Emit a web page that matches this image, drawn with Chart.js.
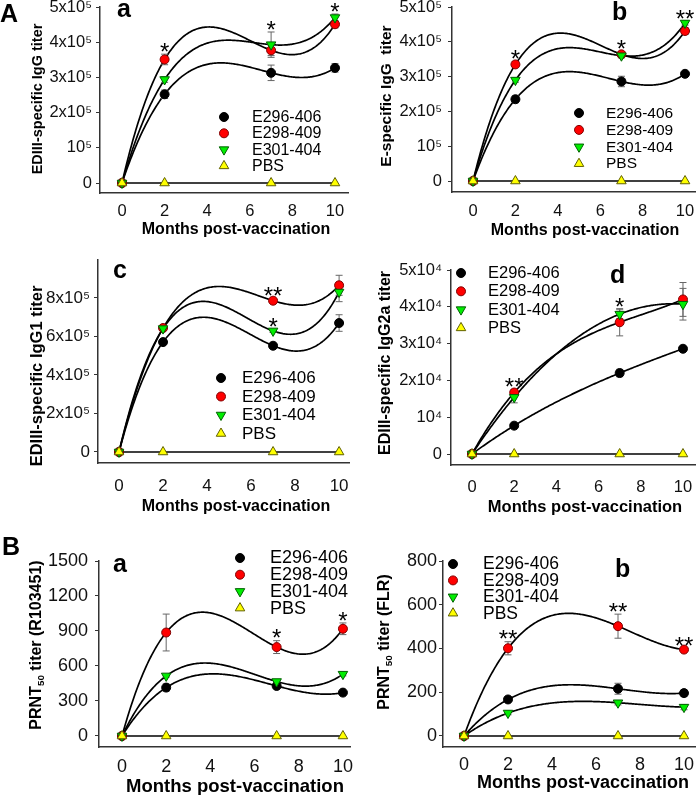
<!DOCTYPE html>
<html><head><meta charset="utf-8">
<script src="https://cdn.jsdelivr.net/npm/chart.js"></script>
<style>
html,body{margin:0;padding:0;background:#fff;}
#wrap{position:relative;width:698px;height:795px;overflow:hidden;background:#fff;}
#wrap canvas{position:absolute;left:0;top:0;}
</style></head><body><div id="wrap"></div>
<script>
// ---------- shared ----------
const months = [0, 2, 7, 10];
const seriesNames = ['E296-406', 'E298-409', 'E301-404', 'PBS'];
const xTicks = [0, 2, 4, 6, 8, 10];
const xTitle = 'Months post-vaccination';

// ---------- A-a : EDIII-specific IgG ----------
const aaE296 = [0, 252000, 313000, 327000];
const aaE296Err = [0, 12000, 22000, 12000];
const aaE298 = [0, 351000, 377000, 451000];
const aaE298Err = [0, 15000, 15000, 10000];
const aaE301 = [0, 294000, 393000, 470000];
const aaE301Err = [0, 8000, 36000, 10000];
const aaPBS = [0, 0, 0, 0];
const aaPBSErr = [0, 0, 0, 0];
const aaYTicks = [0, 100000, 200000, 300000, 400000, 500000];
const aaYLabels = ['0', '10⁵', '2x10⁵', '3x10⁵', '4x10⁵', '5x10⁵'];

// ---------- A-b : E-specific IgG ----------
const abE296 = [0, 235000, 286000, 308000];
const abE296Err = [0, 10000, 15000, 6000];
const abE298 = [0, 335000, 364000, 431000];
const abE298Err = [0, 8000, 8000, 10000];
const abE301 = [0, 290000, 360000, 454000];
const abE301Err = [0, 6000, 6000, 6000];
const abPBS = [0, 0, 0, 0];
const abPBSErr = [0, 0, 0, 0];
const abYTicks = [0, 100000, 200000, 300000, 400000, 500000];
const abYLabels = ['0', '10⁵', '2x10⁵', '3x10⁵', '4x10⁵', '5x10⁵'];

// ---------- A-c : EDIII-specific IgG1 ----------
const acE296 = [0, 571000, 552000, 670000];
const acE296Err = [0, 10000, 10000, 43000];
const acE298 = [0, 644000, 786000, 866000];
const acE298Err = [0, 10000, 10000, 52000];
const acE301 = [0, 641000, 629000, 831000];
const acE301Err = [0, 8000, 8000, 50000];
const acPBS = [0, 0, 0, 0];
const acPBSErr = [0, 0, 0, 0];
const acYTicks = [0, 200000, 400000, 600000, 800000];
const acYLabels = ['0', '2x10⁵', '4x10⁵', '6x10⁵', '8x10⁵'];

// ---------- A-d : EDIII-specific IgG2a ----------
const adE296 = [0, 7700, 22000, 28600];
const adE296Err = [0, 400, 1000, 500];
const adE298 = [0, 16700, 35800, 42000];
const adE298Err = [0, 800, 3700, 4600];
const adE301 = [0, 15400, 38000, 40700];
const adE301Err = [0, 1500, 1200, 4300];
const adPBS = [0, 0, 0, 0];
const adPBSErr = [0, 0, 0, 0];
const adYTicks = [0, 10000, 20000, 30000, 40000, 50000];
const adYLabels = ['0', '10⁴', '2x10⁴', '3x10⁴', '4x10⁴', '5x10⁴'];

// ---------- B-a : PRNT50 (R103451) ----------
const baE296 = [0, 415, 429, 372];
const baE296Err = [0, 30, 15, 10];
const baE298 = [0, 887, 762, 919];
const baE298Err = [0, 158, 55, 50];
const baE301 = [0, 515, 467, 530];
const baE301Err = [0, 10, 10, 15];
const baPBS = [0, 0, 0, 0];
const baPBSErr = [0, 0, 0, 0];
const baYTicks = [0, 300, 600, 900, 1200, 1500];
const baYLabels = ['0', '300', '600', '900', '1200', '1500'];

// ---------- B-b : PRNT50 (FLR) ----------
const bbE296 = [0, 167, 216, 196];
const bbE296Err = [0, 10, 25, 15];
const bbE298 = [0, 401, 502, 395];
const bbE298Err = [0, 30, 55, 8];
const bbE301 = [0, 105, 152, 132];
const bbE301Err = [0, 8, 10, 12];
const bbPBS = [0, 0, 0, 0];
const bbPBSErr = [0, 0, 0, 0];
const bbYTicks = [0, 200, 400, 600, 800];
const bbYLabels = ['0', '200', '400', '600', '800'];

// ---------- styles ----------
const FONT = "'Liberation Sans', Arial, Helvetica, sans-serif";
const markerStyles = [
  {bg: '#000000', border: '#000000', shape: 'circle', rot: 0, r: 4.5},
  {bg: '#ff0000', border: '#800000', shape: 'circle', rot: 0, r: 4.5},
  {bg: '#00ee00', border: '#006000', shape: 'triangle', rot: 180, r: 5.5},
  {bg: '#ffff00', border: '#606000', shape: 'triangle', rot: 0, r: 5.5}
];

const panels = [
  { series: [[aaE296, aaE296Err], [aaE298, aaE298Err], [aaE301, aaE301Err], [aaPBS, aaPBSErr]],
    yTicks: aaYTicks, yLabels: aaYLabels, yTitle: [['EDIII-specific IgG titer', 0]],
    g: {left: 100, right: 348, top: 7, bottom: 193, xMin: -1.033, xMax: 10.61, yMin: -28409, yMax: 500000},
    f: {tick: 16.5, xt: 16, yt: 14.5, leg: 16}, xPad: 8.5, yPad: 4,
    xT: [236, 230], yT: [37.5, 99],
    leg: [224, 252, 117, 16.3],
    letters: [['A', 0, 22], ['a', 117, 17]],
    stars: [[2, 1, '*'], [7, 2, '*'], [10, 2, '*']] },
  { series: [[abE296, abE296Err], [abE298, abE298Err], [abE301, abE301Err], [abPBS, abPBSErr]],
    yTicks: abYTicks, yLabels: abYLabels, yTitle: [['E-specific IgG  titer', 0]],
    g: {left: 452, right: 695, top: 7, bottom: 192, xMin: -0.991, xMax: 10.47, yMin: -31609, yMax: 500000},
    f: {tick: 16.5, xt: 16, yt: 15.5, leg: 15.5}, xPad: 9.5, yPad: 6,
    xT: [585, 231], yT: [387, 96],
    leg: [579, 606, 113, 16.9],
    letters: [['b', 612, 20]],
    stars: [[2, 1, '*'], [7, 1, '*'], [10, 2, '**']] },
  { series: [[acE296, acE296Err], [acE298, acE298Err], [acE301, acE301Err], [acPBS, acPBSErr]],
    yTicks: acYTicks, yLabels: acYLabels, yTitle: [['EDIII-specific IgG1 titer', 0]],
    g: {left: 98, right: 349, top: 259.5, bottom: 463, xMin: -0.955, xMax: 10.45, yMin: -57143, yMax: 1000000},
    f: {tick: 17, xt: 16, yt: 16.5, leg: 17}, xPad: 13.5, yPad: 4,
    xT: [236, 507], yT: [37.5, 376],
    leg: [221, 242, 378, 18.5],
    letters: [['c', 113, 278]],
    stars: [[7, 1, '**'], [7, 2, '*']] },
  { series: [[adE296, adE296Err], [adE298, adE298Err], [adE301, adE301Err], [adPBS, adPBSErr]],
    yTicks: adYTicks, yLabels: adYLabels, yTitle: [['EDIII-specific IgG2a titer', 0]],
    g: {left: 451, right: 695, top: 270, bottom: 465, xMin: -0.995, xMax: 10.57, yMin: -2989, yMax: 50000},
    f: {tick: 16.5, xt: 16.5, yt: 16, leg: 16.5}, xPad: 12.5, yPad: 5,
    xT: [585, 507], yT: [385.5, 363],
    leg: [461, 488, 273, 18.3],
    letters: [['d', 610, 283]],
    stars: [[2, 1, '**'], [7, 2, '*']] },
  { series: [[baE296, baE296Err], [baE298, baE298Err], [baE301, baE301Err], [baPBS, baPBSErr]],
    yTicks: baYTicks, yLabels: baYLabels, yTitle: [['PRNT', 0], ['50', 1], [' titer (R103451)', 0]],
    g: {left: 99, right: 350, top: 561, bottom: 747, xMin: -1.041, xMax: 10.32, yMin: -94.3, yMax: 1500},
    f: {tick: 18, xt: 18.5, yt: 16, leg: 18}, xPad: 9, yPad: 7,
    xT: [235, 787], yT: [37, 645],
    leg: [240, 270, 558, 16.7],
    letters: [['B', 2, 555], ['a', 113, 572]],
    stars: [[7, 1, '*'], [10, 1, '*']] },
  { series: [[bbE296, bbE296Err], [bbE298, bbE298Err], [bbE301, bbE301Err], [bbPBS, bbPBSErr]],
    yTicks: bbYTicks, yLabels: bbYLabels, yTitle: [['PRNT', 0], ['50', 1], [' titer (FLR)', 0]],
    g: {left: 443, right: 695, top: 561, bottom: 747, xMin: -0.955, xMax: 10.5, yMin: -50.3, yMax: 800},
    f: {tick: 18, xt: 18, yt: 16, leg: 17.5}, xPad: 7, yPad: 2,
    xT: [583, 783], yT: [385, 642],
    leg: [453, 483, 564, 16.4],
    letters: [['b', 615, 577]],
    stars: [[2, 1, '**'], [7, 1, '**'], [10, 1, '**']] }
];

// ---------- helpers ----------
function lagrange(xs, ys, x) {
  let s = 0;
  for (let i = 0; i < xs.length; i++) {
    let l = 1;
    for (let j = 0; j < xs.length; j++) if (j !== i) l *= (x - xs[j]) / (xs[i] - xs[j]);
    s += ys[i] * l;
  }
  return s;
}
function drawMarker(ctx, st, x, y) {
  ctx.save();
  ctx.fillStyle = st.bg; ctx.strokeStyle = st.border; ctx.lineWidth = 1;
  ctx.beginPath();
  if (st.shape === 'circle') {
    ctx.arc(x, y, st.r, 0, Math.PI * 2);
  } else {
    let rad = st.rot * Math.PI / 180;
    ctx.moveTo(x + Math.sin(rad) * st.r, y - Math.cos(rad) * st.r);
    rad += 2 * Math.PI / 3;
    ctx.lineTo(x + Math.sin(rad) * st.r, y - Math.cos(rad) * st.r);
    rad += 2 * Math.PI / 3;
    ctx.lineTo(x + Math.sin(rad) * st.r, y - Math.cos(rad) * st.r);
    ctx.closePath();
  }
  ctx.fill(); ctx.stroke();
  ctx.restore();
}

function makeDecor(p) {
  return {
    id: 'decor',
    beforeDatasetsDraw(chart) {
      const ctx = chart.ctx, xs = chart.scales.x, ys = chart.scales.y;
      ctx.save();
      // fitted curves (polynomial through each series' points)
      ctx.strokeStyle = '#000'; ctx.lineWidth = 1.7; ctx.lineJoin = 'round';
      p.series.forEach(s => {
        const vals = s[0];
        ctx.beginPath();
        const N = 200;
        for (let k = 0; k <= N; k++) {
          const xv = months[0] + (months[months.length - 1] - months[0]) * k / N;
          const px = xs.getPixelForValue(xv), py = ys.getPixelForValue(lagrange(months, vals, xv));
          if (k) ctx.lineTo(px, py); else ctx.moveTo(px, py);
        }
        ctx.stroke();
      });
      // error bars
      ctx.strokeStyle = '#666'; ctx.lineWidth = 1;
      p.series.forEach(s => {
        s[0].forEach((v, k) => {
          const e = s[1][k];
          if (!e) return;
          const px = xs.getPixelForValue(months[k]);
          const y1 = ys.getPixelForValue(v + e), y2 = ys.getPixelForValue(v - e);
          ctx.beginPath();
          ctx.moveTo(px, y1); ctx.lineTo(px, y2);
          ctx.moveTo(px - 3.5, y1); ctx.lineTo(px + 3.5, y1);
          ctx.moveTo(px - 3.5, y2); ctx.lineTo(px + 3.5, y2);
          ctx.stroke();
        });
      });
      ctx.restore();
    },
    afterDatasetsDraw(chart) {
      const ctx = chart.ctx, xs = chart.scales.x, ys = chart.scales.y;
      ctx.save();
      ctx.fillStyle = '#000';
      // significance stars
      const sf = 24;
      ctx.font = sf + 'px ' + FONT; ctx.textAlign = 'center'; ctx.textBaseline = 'alphabetic';
      p.stars.forEach(st => {
        const k = months.indexOf(st[0]);
        const s = p.series[st[1]];
        const top = ys.getPixelForValue(s[0][k] + s[1][k]);
        const cy = top - 8;
        ctx.fillText(st[2], xs.getPixelForValue(st[0]), cy + 0.57 * sf);
      });
      // legend
      ctx.textAlign = 'left'; ctx.textBaseline = 'middle';
      ctx.font = p.f.leg + 'px ' + FONT;
      seriesNames.forEach((n, i) => {
        const y = p.leg[2] + i * p.leg[3];
        drawMarker(ctx, markerStyles[i], p.leg[0], y);
        ctx.fillStyle = '#000';
        ctx.fillText(n, p.leg[1], y + 0.5);
      });
      // panel letters
      ctx.font = 'bold 25px ' + FONT; ctx.textBaseline = 'alphabetic';
      p.letters.forEach(l => ctx.fillText(l[0], l[1], l[2]));
      // x title
      ctx.font = 'bold ' + p.f.xt + 'px ' + FONT; ctx.textAlign = 'center'; ctx.textBaseline = 'middle';
      ctx.fillText(xTitle, p.xT[0], p.xT[1]);
      // y title (rotated, with optional subscript parts)
      ctx.save();
      ctx.translate(p.yT[0], p.yT[1]);
      ctx.rotate(-Math.PI / 2);
      ctx.textAlign = 'left';
      const big = 'bold ' + p.f.yt + 'px ' + FONT, small = 'bold ' + (p.f.yt * 0.62) + 'px ' + FONT;
      let total = 0;
      p.yTitle.forEach(part => { ctx.font = part[1] ? small : big; total += ctx.measureText(part[0]).width; });
      let cx = -total / 2;
      p.yTitle.forEach(part => {
        ctx.font = part[1] ? small : big;
        ctx.fillText(part[0], cx, part[1] ? p.f.yt * 0.28 : 0);
        cx += ctx.measureText(part[0]).width;
      });
      ctx.restore();
      ctx.restore();
    }
  };
}

const wrap = document.getElementById('wrap');
panels.forEach(p => {
  const c = document.createElement('canvas');
  c.width = 698; c.height = 795;
  wrap.appendChild(c);
  const datasets = p.series.map((s, i) => ({
    label: seriesNames[i],
    data: months.map((m, k) => ({x: m, y: s[0][k]})),
    pointStyle: markerStyles[i].shape,
    rotation: markerStyles[i].rot,
    pointRadius: markerStyles[i].r,
    pointBackgroundColor: markerStyles[i].bg,
    pointBorderColor: markerStyles[i].border,
    pointBorderWidth: 1,
    showLine: false,
    clip: false,
    order: 3 - i
  }));
  const zeroPad = s => { s.paddingTop = 0; s.paddingBottom = 0; s.paddingLeft = 0; s.paddingRight = 0; };
  new Chart(c, {
    type: 'scatter',
    data: {datasets},
    options: {
      responsive: false, animation: false, events: [],
      layout: {autoPadding: false, padding: {left: 0, top: p.g.top, right: 698 - p.g.right, bottom: 0}},
      plugins: {legend: {display: false}, tooltip: {enabled: false}},
      scales: {
        x: {
          type: 'linear', min: p.g.xMin, max: p.g.xMax,
          afterBuildTicks: s => { s.ticks = xTicks.map(v => ({value: v})); },
          afterFit: s => { s.height = 795 - p.g.bottom; zeroPad(s); },
          ticks: {font: {family: FONT, size: p.f.tick}, color: '#111', padding: p.xPad, maxRotation: 0, autoSkip: false},
          grid: {display: true, drawOnChartArea: false, drawTicks: false},
          border: {display: true, color: '#333', width: 1.5}
        },
        y: {
          type: 'linear', min: p.g.yMin, max: p.g.yMax,
          afterBuildTicks: s => { s.ticks = p.yTicks.map(v => ({value: v})); },
          afterFit: s => { s.width = p.g.left; zeroPad(s); },
          ticks: {callback: (v, i) => p.yLabels[i], font: {family: FONT, size: p.f.tick}, color: '#111', padding: p.yPad, autoSkip: false},
          grid: {display: true, drawOnChartArea: false, drawTicks: true, tickLength: 4, color: '#333', lineWidth: 1},
          border: {display: true, color: '#333', width: 1.5}
        }
      }
    },
    plugins: [makeDecor(p)]
  });
});
</script>
</body></html>
